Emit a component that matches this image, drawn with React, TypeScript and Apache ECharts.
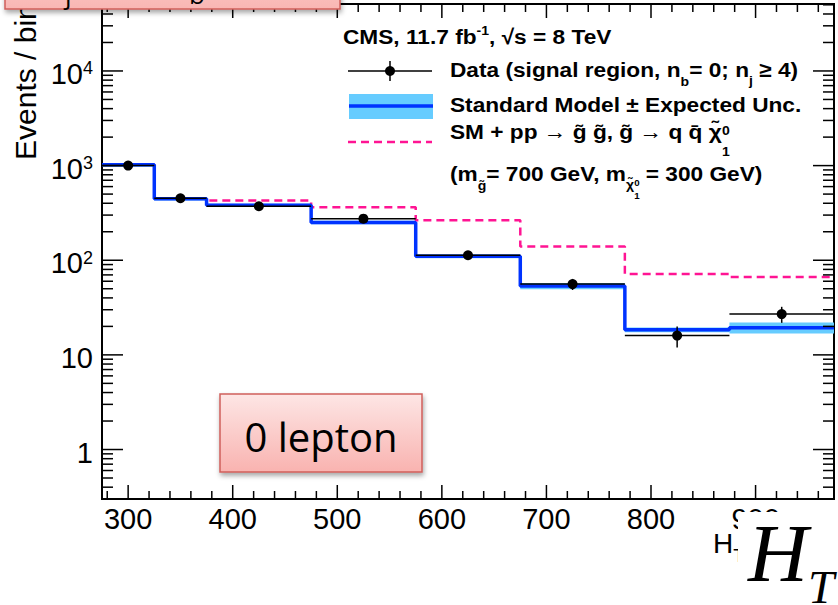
import React, { useEffect, useRef } from "react";
import * as echarts from "echarts";

// H_T binning (GeV) and per-bin contents
const binEdges = [275, 325, 375, 475, 575, 675, 775, 875, 975];
const dataCounts = [1000, 452, 372, 275, 113, 56, 16, 27];
const dataErrors = [32, 21, 19, 17, 11, 7.5, 4, 5.2];
const smExpected = [1020, 446, 380, 251, 110, 53.5, 18.4, 19.4];
const smUncertainty = [40, 18, 15, 11, 5, 4, 1.1, 2.6];
const smPlusSignal = [1022, 448, 429, 362, 264, 140, 71.5, 66.5];

// axis tick labels
const xTickLabels = [300, 400, 500, 600, 700, 800, 900];
const yTickLabels = [1, 10, 100, 1000, 10000];

const X_MIN = 275;
const X_MAX = 975;
const Y_MIN = 0.3;
const Y_MAX = 51000;

const SANS = "Liberation Sans";
const BLACK = "#000000";
const SM_BLUE = "#0033ff";
const BAND_BLUE = "#66ccff";
const SIGNAL_PINK = "#ff1493";

type Run = { t: string; s: number; dy?: number; stay?: boolean };

let measureCtx: CanvasRenderingContext2D | null = null;
function textWidth(t: string, font: string): number {
  if (!measureCtx) measureCtx = document.createElement("canvas").getContext("2d");
  if (!measureCtx) return t.length * 10;
  measureCtx.font = font;
  return measureCtx.measureText(t).width;
}

// Lays out a sequence of text pieces (with sub/superscripts) on a common baseline.
function textRuns(
  x0: number,
  baseline: number,
  runs: Run[],
  family: string,
  weight: string,
  color: string,
  z: number
) {
  let x = x0;
  const out: any[] = [];
  for (const r of runs) {
    out.push({
      type: "text",
      x,
      y: baseline + (r.dy || 0) - 0.35 * r.s,
      z,
      style: {
        text: r.t,
        fontSize: r.s,
        fontFamily: family,
        fontWeight: weight,
        fill: color,
        align: "left",
        verticalAlign: "middle",
      },
    });
    if (!r.stay) x += textWidth(r.t, `${weight} ${r.s}px "${family}"`);
  }
  return out;
}

function buildOption() {
  const nBins = dataCounts.length;
  const bins = dataCounts.map((_, i) => ({
    x0: binEdges[i],
    x1: binEdges[i + 1],
    c: (binEdges[i] + binEdges[i + 1]) / 2,
  }));

  const stepData = (vals: number[], from = 0) =>
    binEdges.slice(from).map((e, k) => [e, vals[Math.min(from + k, nBins - 1)]]);

  // tick positions for the frame
  const xTicks: number[][] = [];
  for (let v = 280; v <= 960; v += 20) xTicks.push([v, Y_MIN, v % 100 === 0 ? 1 : 0]);
  const yTicks: number[][] = [];
  for (const d of [0.1, 1, 10, 100, 1000, 10000]) {
    for (let k = 1; k <= 9; k++) {
      const v = +(k * d).toPrecision(6);
      if (v > Y_MIN && v < Y_MAX) yTicks.push([X_MIN, v, k === 1 ? 1 : 0]);
    }
  }

  const legendFont = 21;
  const sub = 13;
  const subsub = 9;
  const LSX = 1.08;

  const graphic: any[] = [
    // y-axis title
    {
      type: "text",
      x: 25,
      y: 160,
      rotation: Math.PI / 2,
      z: 50,
      style: {
        text: "Events / bin",
        fontSize: 30,
        fontFamily: SANS,
        fill: BLACK,
        align: "left",
        verticalAlign: "middle",
      },
    },
    // legend header
    {
      type: "group",
      x: 343,
      y: 0,
      scaleX: LSX,
      z: 50,
      children: textRuns(
        0,
        44,
        [
          { t: "CMS, 11.7 fb", s: legendFont },
          { t: "-1", s: sub, dy: -9 },
          { t: ", √s = 8 TeV", s: legendFont },
        ],
        SANS,
        "bold",
        BLACK,
        50
      ),
    },
    // legend symbols
    {
      type: "line",
      z: 50,
      shape: { x1: 348, y1: 71, x2: 432, y2: 71 },
      style: { stroke: BLACK, lineWidth: 1.5 },
    },
    {
      type: "line",
      z: 50,
      shape: { x1: 390, y1: 61, x2: 390, y2: 81 },
      style: { stroke: BLACK, lineWidth: 1.5 },
    },
    { type: "circle", z: 51, shape: { cx: 390, cy: 71, r: 5 }, style: { fill: BLACK } },
    {
      type: "rect",
      z: 50,
      shape: { x: 349, y: 94, width: 84, height: 25 },
      style: { fill: BAND_BLUE },
    },
    {
      type: "line",
      z: 51,
      shape: { x1: 349, y1: 106, x2: 433, y2: 106 },
      style: { stroke: SM_BLUE, lineWidth: 3.5 },
    },
    {
      type: "line",
      z: 50,
      shape: { x1: 348, y1: 142, x2: 432, y2: 142 },
      style: { stroke: SIGNAL_PINK, lineWidth: 2.5, lineDash: [8, 5] },
    },
    // legend entries
    {
      type: "group",
      x: 450,
      y: 0,
      scaleX: LSX,
      z: 50,
      children: [
        ...textRuns(
          0,
          77,
          [
            { t: "Data (signal region, n", s: legendFont },
            { t: "b", s: sub, dy: 9 },
            { t: "= 0; n", s: legendFont },
            { t: "j", s: sub, dy: 8 },
            { t: " ≥ 4)", s: legendFont },
          ],
          SANS,
          "bold",
          BLACK,
          50
        ),
        ...textRuns(
          0,
          112,
          [{ t: "Standard Model ± Expected Unc.", s: legendFont }],
          SANS,
          "bold",
          BLACK,
          50
        ),
        ...textRuns(
          0,
          139,
          [
            { t: "SM + pp → g\u0303 g\u0303, g\u0303 → q q\u0304 χ\u0303", s: legendFont },
            { t: "0", s: sub, dy: -4, stay: true },
            { t: "1", s: sub, dy: 17 },
          ],
          SANS,
          "bold",
          BLACK,
          50
        ),
        ...textRuns(
          0,
          181,
          [
            { t: "(m", s: legendFont },
            { t: "g\u0303", s: sub, dy: 9 },
            { t: "= 700 GeV, m", s: legendFont },
            { t: "χ\u0303", s: sub, dy: 8 },
            { t: "0", s: subsub, dy: 5, stay: true },
            { t: "1", s: subsub, dy: 18 },
            { t: " = 300 GeV)", s: legendFont },
          ],
          SANS,
          "bold",
          BLACK,
          50
        ),
      ],
    },
    // x-axis title
    ...textRuns(
      713,
      553,
      [
        { t: "H", s: 28 },
        { t: "T", s: 19, dy: 9 },
      ],
      SANS,
      "normal",
      BLACK,
      50
    ),
    // large H_T tag with white backing
    {
      type: "rect",
      z: 120,
      shape: { x: 738, y: 512, width: 110, height: 100 },
      style: { fill: "#ffffff" },
    },
    ...textRuns(
      748,
      582,
      [
        { t: "H", s: 83 },
        { t: "T", s: 47, dy: 21 },
      ],
      "Liberation Serif",
      "normal",
      BLACK,
      121
    ).map((e: any) => ({ ...e, style: { ...e.style, fontStyle: "italic" } })),
    // "0 lepton" tag
    {
      type: "rect",
      z: 110,
      shape: { x: 220, y: 394, width: 202, height: 78 },
      style: {
        fill: new echarts.graphic.LinearGradient(0, 0, 0, 1, [
          { offset: 0, color: "#fde6e5" },
          { offset: 1, color: "#f9b3b0" },
        ]),
        stroke: "#cf5f5b",
        lineWidth: 1.5,
        shadowBlur: 5,
        shadowOffsetX: 1,
        shadowOffsetY: 3,
        shadowColor: "rgba(0,0,0,0.35)",
      },
    },
    {
      type: "text",
      x: 321,
      y: 436,
      z: 111,
      style: {
        text: "0 lepton",
        fontSize: 40,
        fontFamily: "Open Sans",
        fill: BLACK,
        align: "center",
        verticalAlign: "middle",
      },
    },
    // selection tag at the top edge
    {
      type: "rect",
      z: 110,
      shape: { x: 5, y: -70, width: 335, height: 79 },
      style: {
        fill: new echarts.graphic.LinearGradient(0, 0, 0, 1, [
          { offset: 0, color: "#fde6e5" },
          { offset: 1, color: "#f9b6b3" },
        ]),
        stroke: "#cf5f5b",
        lineWidth: 1.5,
        shadowBlur: 5,
        shadowOffsetX: 1,
        shadowOffsetY: 3,
        shadowColor: "rgba(0,0,0,0.35)",
      },
    },
    ...textRuns(
      35,
      -9,
      [
        { t: "N", s: 40 },
        { t: "j", s: 26, dy: 12 },
        { t: " ≥ 4, N", s: 40 },
        { t: "b", s: 26, dy: 12 },
        { t: " = 0", s: 40 },
      ],
      "Open Sans",
      "normal",
      BLACK,
      111
    ),
  ];

  return {
    animation: false,
    backgroundColor: "#ffffff",
    grid: {
      left: 102,
      right: 4,
      top: 4,
      bottom: 106,
      show: true,
      borderColor: BLACK,
      borderWidth: 2,
      backgroundColor: "transparent",
      containLabel: false,
    },
    xAxis: {
      type: "value",
      min: X_MIN,
      max: X_MAX,
      axisLine: { show: false },
      axisTick: { show: false },
      splitLine: { show: false },
      axisLabel: {
        margin: 5,
        fontSize: 29,
        fontFamily: SANS,
        color: BLACK,
        formatter: (v: number) => (xTickLabels.includes(Math.round(v)) && Math.abs(v - Math.round(v)) < 1e-6 ? String(Math.round(v)) : ""),
      },
    },
    yAxis: {
      type: "log",
      logBase: 10,
      min: Y_MIN,
      max: Y_MAX,
      axisLine: { show: false },
      axisTick: { show: false },
      splitLine: { show: false },
      minorTick: { show: false },
      axisLabel: {
        margin: 9,
        padding: [6, 0, 0, 0],
        formatter: (v: number) => {
          const e = Math.log10(v);
          const n = Math.round(e);
          if (Math.abs(e - n) > 1e-6) return "";
          const val = Math.pow(10, n);
          if (!yTickLabels.includes(val)) return "";
          if (n <= 1) return `{a|${val}}`;
          return `{a|10}{s|${n}}`;
        },
        rich: {
          a: { fontSize: 29, lineHeight: 29, fontFamily: SANS, color: BLACK },
          s: { fontSize: 18, lineHeight: 18, fontFamily: SANS, color: BLACK, verticalAlign: "top" },
        },
      },
    },
    series: [
      {
        type: "custom",
        name: "SM uncertainty",
        z: 2,
        data: bins.map((b, i) => [b.c, smExpected[i], b.x0, b.x1, smExpected[i] - smUncertainty[i], smExpected[i] + smUncertainty[i]]),
        renderItem: (_p: any, api: any) => {
          const p0 = api.coord([api.value(2), api.value(5)]);
          const p1 = api.coord([api.value(3), api.value(4)]);
          return {
            type: "rect",
            shape: { x: p0[0], y: p0[1], width: p1[0] - p0[0], height: p1[1] - p0[1] },
            style: { fill: BAND_BLUE },
          };
        },
      },
      {
        type: "line",
        name: "SM + signal",
        z: 3,
        step: "end",
        symbol: "none",
        data: stepData(smPlusSignal),
        lineStyle: { color: SIGNAL_PINK, width: 2.5, type: [8, 5] },
      },
      {
        type: "line",
        name: "Standard Model",
        z: 4,
        step: "end",
        symbol: "none",
        data: stepData(smExpected),
        lineStyle: { color: SM_BLUE, width: 3.5 },
      },
      {
        type: "custom",
        name: "Data",
        z: 5,
        data: bins.map((b, i) => [b.c, dataCounts[i], b.x0, b.x1, dataErrors[i]]),
        renderItem: (_p: any, api: any) => {
          const c = api.value(0);
          const v = api.value(1);
          const err = api.value(4);
          const pc = api.coord([c, v]);
          const pl = api.coord([api.value(2), v]);
          const pr = api.coord([api.value(3), v]);
          const ph = api.coord([c, v + err]);
          const plo = api.coord([c, v - err]);
          return {
            type: "group",
            children: [
              { type: "line", shape: { x1: pl[0], y1: pl[1], x2: pr[0], y2: pr[1] }, style: { stroke: BLACK, lineWidth: 1.5 } },
              { type: "line", shape: { x1: ph[0], y1: ph[1], x2: plo[0], y2: plo[1] }, style: { stroke: BLACK, lineWidth: 1.5 } },
              { type: "circle", shape: { cx: pc[0], cy: pc[1], r: 5 }, style: { fill: BLACK } },
            ],
          };
        },
      },
      {
        type: "custom",
        name: "x ticks",
        z: 6,
        silent: true,
        data: xTicks,
        renderItem: (_p: any, api: any) => {
          const v = api.value(0);
          const len = api.value(2) === 1 ? 14 : 8;
          const b = api.coord([v, Y_MIN]);
          const t = api.coord([v, Y_MAX]);
          return {
            type: "group",
            children: [
              { type: "line", shape: { x1: b[0], y1: b[1], x2: b[0], y2: b[1] - len }, style: { stroke: BLACK, lineWidth: 1.5 } },
              { type: "line", shape: { x1: t[0], y1: t[1], x2: t[0], y2: t[1] + len }, style: { stroke: BLACK, lineWidth: 1.5 } },
            ],
          };
        },
      },
      {
        type: "custom",
        name: "y ticks",
        z: 6,
        silent: true,
        data: yTicks,
        renderItem: (_p: any, api: any) => {
          const v = api.value(1);
          const len = api.value(2) === 1 ? 21 : 11;
          const l = api.coord([X_MIN, v]);
          const r = api.coord([X_MAX, v]);
          return {
            type: "group",
            children: [
              { type: "line", shape: { x1: l[0], y1: l[1], x2: l[0] + len, y2: l[1] }, style: { stroke: BLACK, lineWidth: 1.5 } },
              { type: "line", shape: { x1: r[0], y1: r[1], x2: r[0] - len, y2: r[1] }, style: { stroke: BLACK, lineWidth: 1.5 } },
            ],
          };
        },
      },
    ],
    graphic,
  };
}

export default function App() {
  const ref = useRef<HTMLDivElement>(null);
  useEffect(() => {
    if (!ref.current) return;
    const chart = echarts.init(ref.current, null, { renderer: "svg", width: 838, height: 605 });
    chart.setOption(buildOption() as any);
    return () => chart.dispose();
  }, []);
  return (
    <div
      ref={ref}
      style={{ position: "fixed", left: 0, top: 0, width: 838, height: 605, background: "#fff" }}
    />
  );
}
